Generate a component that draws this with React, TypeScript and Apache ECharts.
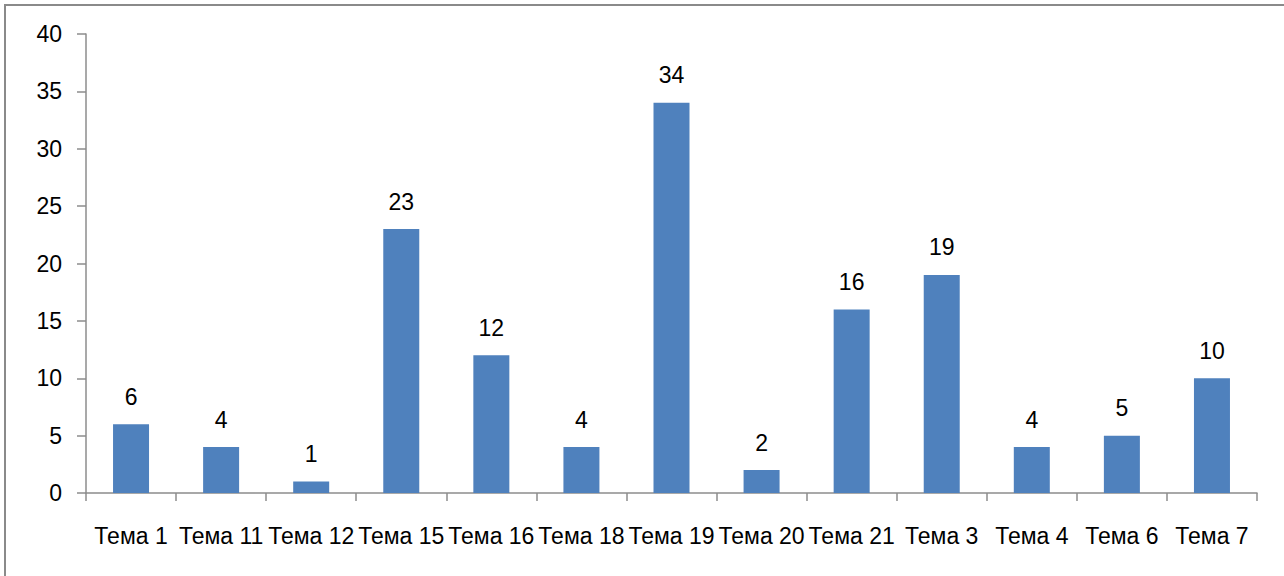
import React, { useEffect, useRef } from "react";
import * as echarts from "echarts";

const categories = ["Тема 1", "Тема 11", "Тема 12", "Тема 15", "Тема 16", "Тема 18", "Тема 19", "Тема 20", "Тема 21", "Тема 3", "Тема 4", "Тема 6", "Тема 7"];
const values = [6, 4, 1, 23, 12, 4, 34, 2, 16, 19, 4, 5, 10];
const yMin = 0;
const yMax = 40;
const yStep = 5;

const FONT = "'Liberation Sans', Arial, sans-serif";

export default function App() {
  const ref = useRef<HTMLDivElement>(null);
  useEffect(() => {
    if (!ref.current) return;
    const chart = echarts.init(ref.current, null, { renderer: "svg" });
    chart.setOption({
      animation: false,
      backgroundColor: "#ffffff",
      graphic: [
        {
          type: "rect",
          shape: { x: 5, y: 5, width: 1400, height: 700 },
          style: { fill: "none", stroke: "#8a8a8a", lineWidth: 2 },
          silent: true,
          z: 100,
        },
      ],
      grid: { left: 86, right: 27, top: 34, bottom: 83, containLabel: false },
      xAxis: {
        type: "category",
        data: categories,
        axisLine: { lineStyle: { color: "#8c8c8c", width: 1.5 } },
        axisTick: { show: true, length: 8, alignWithLabel: false, lineStyle: { color: "#8c8c8c", width: 1.5 } },
        axisLabel: { interval: 0, margin: 31, color: "#000", fontSize: 23, fontFamily: FONT },
      },
      yAxis: {
        type: "value",
        min: yMin,
        max: yMax,
        interval: yStep,
        axisLine: { show: true, lineStyle: { color: "#8c8c8c", width: 1.5 } },
        axisTick: { show: true, inside: false, length: 9, lineStyle: { color: "#8c8c8c", width: 1.5 } },
        splitLine: { show: false },
        axisLabel: { margin: 24, color: "#000", fontSize: 23, fontFamily: FONT },
      },
      series: [
        {
          type: "bar",
          data: values,
          barWidth: 36,
          itemStyle: { color: "#4F81BD" },
          label: {
            show: true,
            position: "top",
            distance: 16,
            color: "#000",
            fontSize: 23,
            fontFamily: FONT,
          },
        },
      ],
    });
    return () => chart.dispose();
  }, []);
  return (
    <div
      ref={ref}
      style={{ position: "fixed", left: 0, top: 0, width: 1284, height: 576 }}
    />
  );
}
